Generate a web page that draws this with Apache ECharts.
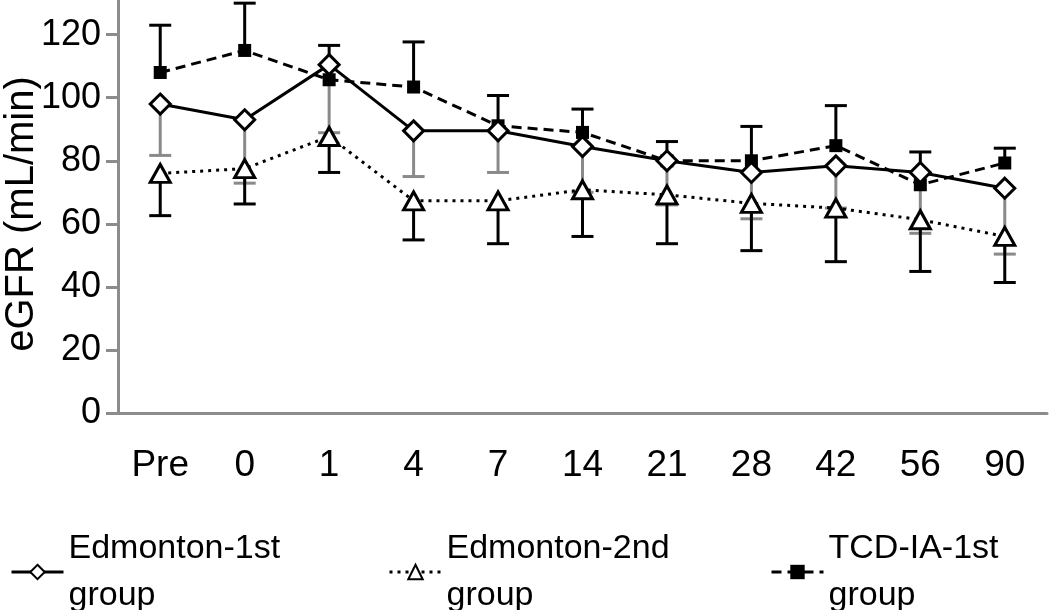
<!DOCTYPE html>
<html><head><meta charset="utf-8">
<script src="https://cdn.jsdelivr.net/npm/echarts@6/dist/echarts.min.js"></script>
<style>html,body{margin:0;padding:0;background:#fff}#c{width:1050px;height:610px}</style>
</head><body><div id="c"></div>
<script>
const categories = ['Pre','0','1','4','7','14','21','28','42','56','90'];
const yTicks = [0,20,40,60,80,100,120];
const yTitle = 'eGFR (mL/min)';
const ed1 = [98, 93, 110.5, 89.5, 89.5, 84.5, 80, 76.3, 78.4, 76.3, 71.3];
const ed1Low = [81.7, 72.9, 88.9, 75, 76.3, 70, 66, 61.6, 65, 57, 50.4];
const ed2 = [76, 77.5, 87.7, 67.3, 67.3, 70.8, 69.2, 66.5, 65, 61.3, 56];
const ed2Low = [62.6, 66.3, 76.3, 54.9, 53.7, 56, 53.7, 51.5, 48, 44.9, 41.4];
const tcd = [108, 115, 105.7, 103.4, 91.1, 89, 80, 80, 84.8, 72.4, 79.3];
const tcdHigh = [123, 130, 116.6, 117.7, 100.7, 96.4, 86.1, 90.9, 97.5, 82.8, 84];
const names = ['Edmonton-1st group','Edmonton-2nd group','TCD-IA-1st group'];

const FONT = '"Liberation Sans", Arial, sans-serif';
const AXIS = '#8c8c8c';

function errData(mean, end){ return mean.map((v,i)=>[i, v, end[i]]); }
function errRender(color, capW){
  return function(params, api){
    const p1 = api.coord([api.value(0), api.value(1)]);
    const p2 = api.coord([api.value(0), api.value(2)]);
    return {type:'group', children:[
      {type:'line', shape:{x1:p1[0],y1:p1[1],x2:p2[0],y2:p2[1]}, style:{stroke:color,lineWidth:3}},
      {type:'line', shape:{x1:p2[0]-capW/2,y1:p2[1],x2:p2[0]+capW/2,y2:p2[1]}, style:{stroke:color,lineWidth:3}}
    ]};
  };
}
function legendFor(name, left){
  return {data:[name], left:left, top:520, orient:'horizontal', itemWidth:52, itemHeight:18,
    lineStyle:{width:3},
    formatter: n => n.replace(' group','\ngroup'),
    textStyle:{fontFamily:FONT, fontSize:34, color:'#000', lineHeight:47}, selectedMode:false};
}

const chart = echarts.init(document.getElementById('c'));
chart.setOption({
  animation:false,
  backgroundColor:'#fff',
  grid:{left:118, right:3, top:0, bottom:197},
  legend:[legendFor(names[0],5), legendFor(names[1],383), legendFor(names[2],765)],
  graphic:[{type:'text', x:22, y:214, rotation:Math.PI/2,
    style:{text:yTitle, font:'40px "Liberation Sans", Arial, sans-serif', fill:'#000', align:'center', verticalAlign:'middle'}}],
  xAxis:{type:'category', data:categories, boundaryGap:true,
    axisLine:{lineStyle:{color:AXIS,width:3}},
    axisTick:{alignWithLabel:true, length:10, lineStyle:{color:AXIS,width:3}},
    axisLabel:{fontFamily:FONT, fontSize:37, color:'#000', margin:34}},
  yAxis:{type:'value', min:0, max:131,
    splitLine:{show:false},
    axisLine:{show:true, lineStyle:{color:AXIS,width:3}},
    axisTick:{show:true, length:12, customValues:yTicks, lineStyle:{color:AXIS,width:3}},
    axisLabel:{fontFamily:FONT, fontSize:36, color:'#000', margin:17, customValues:yTicks}},
  series:[
    {type:'custom', name:'e1err', renderItem:errRender('#8a8a8a',22), data:errData(ed1,ed1Low), encode:{x:0,y:[1,2]}, z:1},
    {type:'custom', name:'e2err', renderItem:errRender('#000',22), data:errData(ed2,ed2Low), encode:{x:0,y:[1,2]}, z:1},
    {type:'custom', name:'tcderr', renderItem:errRender('#000',22), data:errData(tcd,tcdHigh), encode:{x:0,y:[1,2]}, z:1},
    {type:'line', name:names[2], data:tcd, symbol:'rect', symbolSize:13, z:3,
      lineStyle:{color:'#000', width:3, type:[10,6]}, itemStyle:{color:'#000', borderColor:'#000', borderWidth:0}},
    {type:'line', name:names[1], data:ed2, symbol:'triangle', symbolSize:[20,18], z:4,
      lineStyle:{color:'#000', width:3, type:[3,5]}, itemStyle:{color:'#fff', borderColor:'#000', borderWidth:3}},
    {type:'line', name:names[0], data:ed1, symbol:'diamond', symbolSize:[20,20], z:5,
      lineStyle:{color:'#000', width:3}, itemStyle:{color:'#fff', borderColor:'#000', borderWidth:3}}
  ]
});
</script></body></html>
